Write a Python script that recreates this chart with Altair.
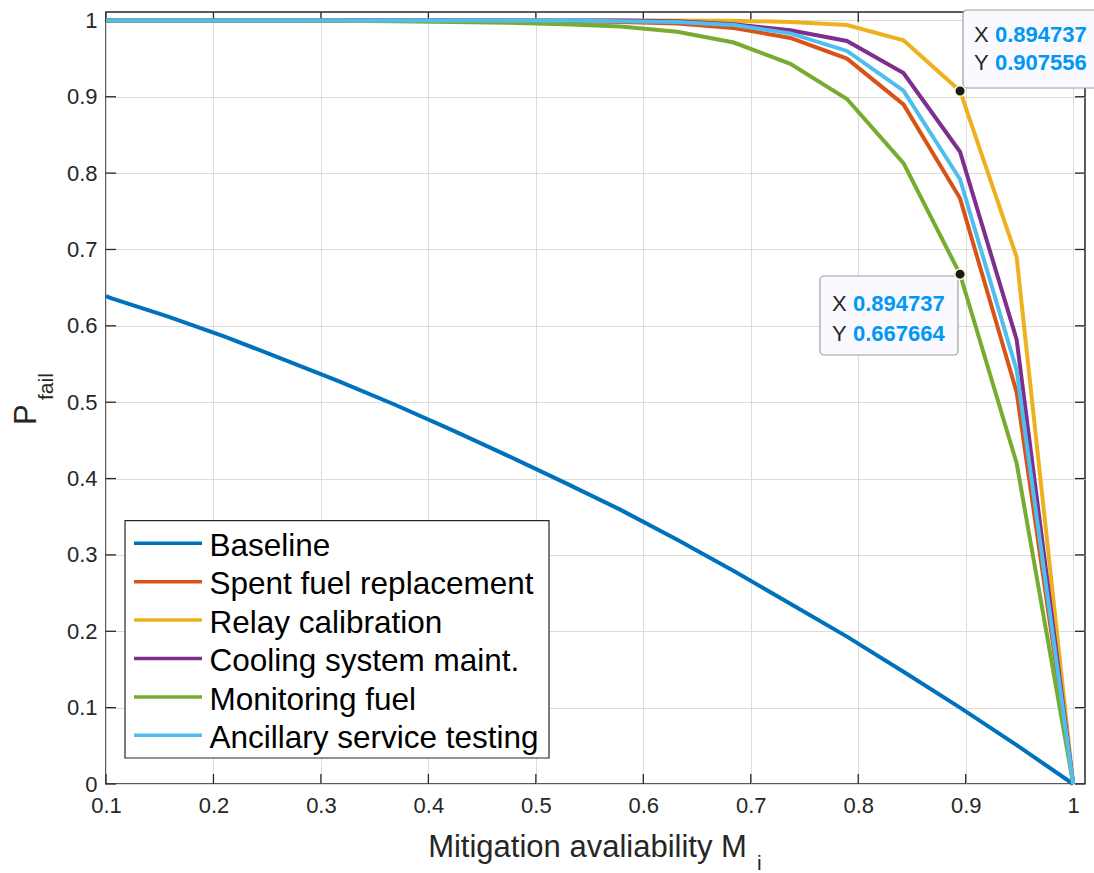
import altair as alt
import pandas as pd

# ---------------- data ----------------
x_vals = [0.1, 0.1053, 0.1579, 0.2105, 0.2632, 0.3158, 0.3684, 0.4211, 0.4737, 0.5263,
          0.5789, 0.6316, 0.6842, 0.7368, 0.7895, 0.8421, 0.8947, 0.9474, 1.0]

baseline = [0.639, 0.636, 0.612, 0.586, 0.557, 0.528, 0.497, 0.464, 0.430, 0.395,
            0.359, 0.320, 0.279, 0.236, 0.193, 0.147, 0.100, 0.051, 0.0]
spent_fuel = [1.0, 1.0, 1.0, 1.0, 1.0, 1.0, 1.0, 1.0, 0.9995, 0.999,
              0.998, 0.996, 0.990, 0.977, 0.950, 0.890, 0.767, 0.513, 0.0]
relay = [1.0, 1.0, 1.0, 1.0, 1.0, 1.0, 1.0, 1.0, 1.0, 1.0,
         1.0, 1.0, 0.9995, 0.998, 0.994, 0.974, 0.9076, 0.690, 0.0]
cooling = [1.0, 1.0, 1.0, 1.0, 1.0, 1.0, 1.0, 1.0, 1.0, 1.0,
           1.0, 0.999, 0.995, 0.987, 0.973, 0.931, 0.828, 0.582, 0.0]
monitoring = [1.0, 1.0, 1.0, 1.0, 1.0, 0.9995, 0.999, 0.998, 0.997, 0.995,
              0.992, 0.985, 0.971, 0.943, 0.897, 0.813, 0.6677, 0.420, 0.0]
ancillary = [1.0, 1.0, 1.0, 1.0, 1.0, 1.0, 1.0, 1.0, 1.0, 1.0,
             0.999, 0.998, 0.994, 0.983, 0.960, 0.908, 0.792, 0.542, 0.0]

series_names = ["Baseline", "Spent fuel replacement", "Relay calibration",
                "Cooling system maint.", "Monitoring fuel", "Ancillary service testing"]
series_values = [baseline, spent_fuel, relay, cooling, monitoring, ancillary]
series_colors = ["#0072BD", "#D95319", "#EDB120", "#7E2F8E", "#77AC30", "#4DBEEE"]

x_ticks = [0.1, 0.2, 0.3, 0.4, 0.5, 0.6, 0.7, 0.8, 0.9, 1.0]
y_ticks = [0.0, 0.1, 0.2, 0.3, 0.4, 0.5, 0.6, 0.7, 0.8, 0.9, 1.0]

tip_x = [0.894737, 0.894737]
tip_y = [0.907556, 0.667664]
tip_text_x = ["0.894737", "0.894737"]
tip_text_y = ["0.907556", "0.667664"]

# ---------------- layout ----------------
W, H = 979, 772
FONT = "Liberation Sans"
TXT = "#262626"

rows = []
for name, vals in zip(series_names, series_values):
    for xv, yv in zip(x_vals, vals):
        rows.append({"series": name, "x": xv, "y": yv})
df = pd.DataFrame(rows)

x_scale = alt.Scale(domain=[0.1, 1.011], nice=False, zero=False)
y_scale = alt.Scale(domain=[0, 1.011], nice=False, zero=False)
color_scale = alt.Scale(domain=series_names, range=series_colors)

x_axis = alt.Axis(title=None, values=x_ticks, format=".1~f", grid=True, gridColor="#dcdcdc",
                  gridWidth=1, ticks=False, domain=False, labelFontSize=22, labelFont=FONT,
                  labelColor=TXT, labelPadding=11, labelFlush=False, labelOverlap=False)
y_axis = alt.Axis(title=None, values=y_ticks, format=".1~f", grid=True, gridColor="#dcdcdc",
                  gridWidth=1, ticks=False, domain=False, labelFontSize=22, labelFont=FONT,
                  labelColor=TXT, labelPadding=9, labelFlush=False, labelOverlap=False)

xt_df = pd.DataFrame({"t": x_ticks})
yt_df = pd.DataFrame({"t": y_ticks})
tick_style = dict(color="#262626", strokeWidth=1.3)

ticks_bottom = alt.Chart(xt_df).mark_rule(**tick_style).encode(
    x=alt.X("t:Q", scale=x_scale, axis=x_axis), y=alt.value(H), y2=alt.value(H - 10))
ticks_top = alt.Chart(xt_df).mark_rule(**tick_style).encode(
    x=alt.X("t:Q", scale=x_scale, axis=x_axis), y=alt.value(0), y2=alt.value(10))
ticks_left = alt.Chart(yt_df).mark_rule(**tick_style).encode(
    y=alt.Y("t:Q", scale=y_scale, axis=y_axis), x=alt.value(0), x2=alt.value(10))
ticks_right = alt.Chart(yt_df).mark_rule(**tick_style).encode(
    y=alt.Y("t:Q", scale=y_scale, axis=y_axis), x=alt.value(W), x2=alt.value(W - 10))

line_layers = []
for name in series_names:
    line_layers.append(
        alt.Chart(df).transform_filter(alt.datum.series == name).mark_line(strokeWidth=4).encode(
            x=alt.X("x:Q", scale=x_scale, axis=x_axis),
            y=alt.Y("y:Q", scale=y_scale, axis=y_axis),
            color=alt.Color("series:N", scale=color_scale, legend=None),
        )
    )

one = pd.DataFrame({"a": [0]})


def label(text, x, y, size=21, color=TXT, weight="normal", align="left", angle=0):
    return alt.Chart(one).mark_text(text=text, fontSize=size, font=FONT, color=color,
                                    fontWeight=weight, align=align, baseline="alphabetic",
                                    angle=angle).encode(x=alt.value(x), y=alt.value(y))


# ---------------- legend (MATLAB style box) ----------------
LEG_X0, LEG_X1, LEG_Y0, LEG_Y1 = 19, 443, 508.7, 746
ROW0, ROW_STEP = 531.3, 38.4
legend_layers = [
    alt.Chart(one).mark_rect(fill="white", stroke="#262626", strokeWidth=1.2).encode(
        x=alt.value(LEG_X0), x2=alt.value(LEG_X1), y=alt.value(LEG_Y0), y2=alt.value(LEG_Y1))
]
for i, (name, col) in enumerate(zip(series_names, series_colors)):
    yc = ROW0 + ROW_STEP * i
    legend_layers.append(
        alt.Chart(one).mark_rule(color=col, strokeWidth=3.5).encode(
            x=alt.value(28), x2=alt.value(96), y=alt.value(yc)))
    legend_layers.append(label(name, 103.5, yc + 12.7, size=31.5, color="black"))

# ---------------- datatips ----------------
box1 = alt.Chart(one).mark_rect(fill="#f9f9ff", stroke="#a0a0a0", strokeWidth=1.2,
                                cornerRadius=4).encode(
    x=alt.value(857), x2=alt.value(1000), y=alt.value(-2), y2=alt.value(76))
box2 = alt.Chart(one).mark_rect(fill="#f9f9ff", stroke="#a0a0a0", strokeWidth=1.2,
                                cornerRadius=4).encode(
    x=alt.value(714), x2=alt.value(852), y=alt.value(264), y2=alt.value(343))

tip_df = pd.DataFrame({"x": tip_x, "y": tip_y})
tip_points = alt.Chart(tip_df).mark_point(filled=True, fill="#1a1a1a", stroke="#fff8c8",
                                          strokeWidth=1.5, size=110, opacity=1).encode(
    x=alt.X("x:Q", scale=x_scale, axis=x_axis), y=alt.Y("y:Q", scale=y_scale, axis=y_axis))

BLUE = "#0097F5"
tips = [
    label("X", 868, 29.7, size=22), label(tip_text_x[0], 889, 29.7, size=22, color=BLUE, weight="bold"),
    label("Y", 868, 58, size=22), label(tip_text_y[0], 889, 58, size=22, color=BLUE, weight="bold"),
    label("X", 726, 298.7, size=22), label(tip_text_x[1], 747, 298.7, size=22, color=BLUE, weight="bold"),
    label("Y", 726, 328.7, size=22), label(tip_text_y[1], 747, 328.7, size=22, color=BLUE, weight="bold"),
]

titles = [
    label("Mitigation avaliability M", 481.5, 844.7, size=31, align="center"),
    label("i", 651, 858, size=21),
    label("P", -70, 413, size=31, angle=270),
    label("fail", -53, 388, size=21, angle=270),
]

chart = alt.layer(
    ticks_bottom, ticks_top, ticks_left, ticks_right,
    *line_layers, *legend_layers, box1, box2, tip_points, *tips, *titles
).properties(
    width=W, height=H,
    autosize=alt.AutoSizeParams(type="none"),
    padding={"left": 106, "top": 12, "right": 9, "bottom": 89},
).configure(
    font=FONT, background="white"
).configure_view(
    stroke="#262626", strokeWidth=1.5
)

chart.save("out.html", embed_options={"renderer": "svg", "actions": False})
